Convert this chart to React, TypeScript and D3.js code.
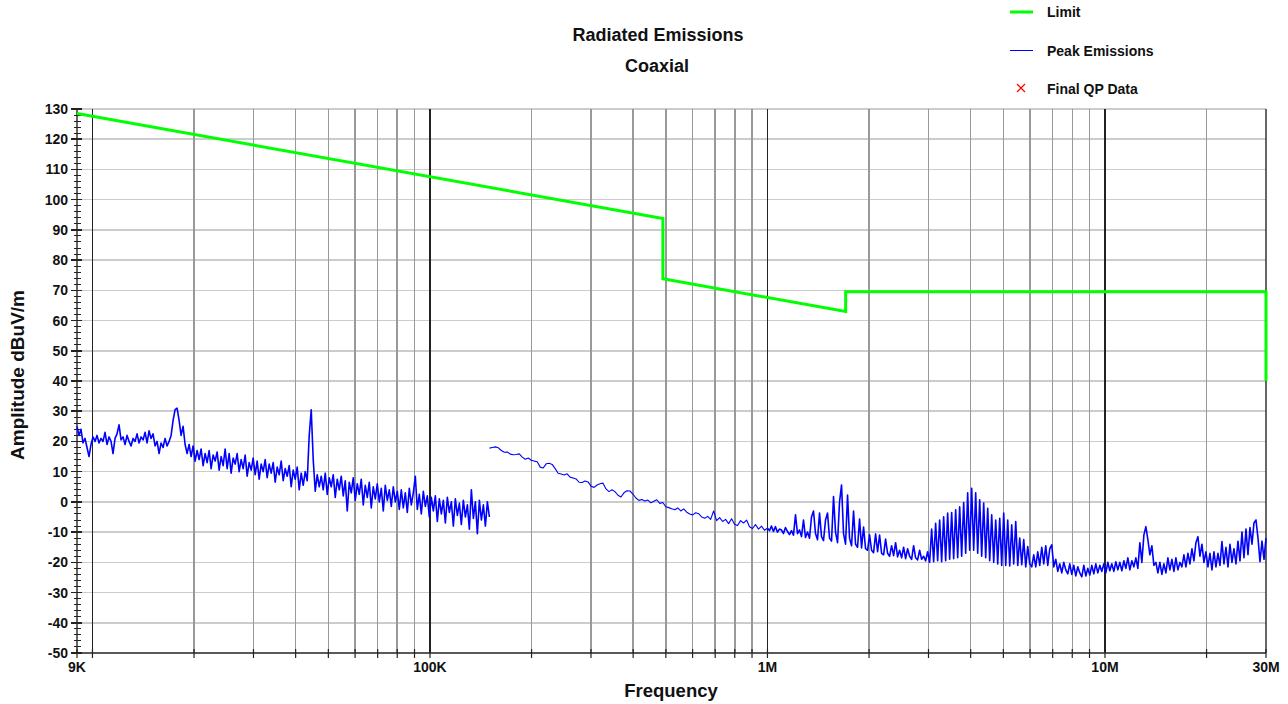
import { useEffect, useRef } from 'react';
import * as d3 from 'd3';

// Limit line (dBuV/m), frequency in Hz
const limitFreqs = [9e3, 490e3, 490e3, 1.705e6, 1.705e6, 30e6, 30e6];
const limitLevels = [128.5, 93.8, 73.8, 63.0, 69.5, 69.5, 40];

// Peak scan 9 kHz - 150 kHz, values at equal log-frequency steps
const peakLowStart = 9e3;
const peakLowStop = 150e3;
const peakLow = [
    25, 22, 24, 19.5, 21, 18, 15, 19, 21.5, 20,
    22, 19.5, 21, 20, 23, 19, 21.5, 20, 16, 21,
    22.5, 25.5, 20.5, 21.5, 19, 22, 20, 18.5, 21, 20,
    22.5, 19.5, 21.5, 20.5, 23, 19.5, 23.5, 21, 22.5, 18.5,
    20, 16, 19.5, 18, 21, 18.5, 20, 22, 27, 30.5,
    31, 27, 22, 25, 19,
    16, 19, 15, 18.5, 13.5, 17, 14, 17.5, 12, 16,
    13, 17, 11, 15.5, 13.5, 16.5, 10.5, 15, 12, 17.5,
    11, 16, 9.5, 14.5, 12.5, 16, 10, 14, 11, 15.5,
    8.5, 13, 10.5, 14.5, 9, 13.5, 7.5, 12.5, 10, 14,
    8, 12.5, 9.5, 13, 6.5, 11.5, 9, 13.5, 7, 11,
    8.5, 12, 5, 10.5, 7.5, 11.5, 4,
    9.5, 5.5, 10, 7, 22, 30.5, 14, 3.5, 9, 5,
    8.5, 4, 9.5, 2.5, 8, 5, 9, 1.5, 7.5, 4,
    8.5, 2, 7, -3, 6.5, 3, 8, 0.5, 6, 2.5,
    7.5, -1, 5.5, 1.5, 6.5, -2, 5, 1, 6, 0,
    4.5, -3, 5.5, 0.5, 4, -1.5, 5, 0, 3.5, -2.5,
    4, -2, 3, -3.5, 4.5, -1, 3, 8.5, -2.5, 2.5,
    -4, 3.5, -1.5, 2, -5, 1.5, -3, 2, -6.5, 1,
    -4, 0.5, -7, 1.5, -3.5, 0, -8, 1, -4.5, -0.5,
    -7.5, 0.5, -5, -1, -9, 4, -5.5, 0, -10.5, 0.5,
    -6, -1, -8, 0, -5,
];

// Peak scan 150 kHz - 1 MHz
const peakMidStart = 150e3;
const peakMidStop = 1e6;
const peakMid = [
    17.8, 18.0, 18.2, 17.9, 17.0, 16.4, 16.5, 15.8, 15.6, 15.7,
    15.9, 14.8, 14.1, 14.5, 13.8, 13.5, 13.3, 11.5, 11.2, 12.6,
    12.8, 12.4, 11.0, 9.5, 9.2, 8.9, 9.3, 8.2, 7.9, 7.6,
    6.5, 6.4, 6.9, 6.6, 5.2, 4.8, 5.6, 6.0, 6.2, 4.3,
    3.4, 4.0, 3.4, 2.2, 1.6, 3.0, 3.7, 3.6, 2.6, 1.3,
    0.5, 0.8, 0.3, 0.6, -0.3, 0.2, 0.7, -0.5, -0.2, -1.6,
    -1.9, -2.3, -2.6, -2.0, -3.0, -2.3, -3.4, -4.0, -4.3, -3.6,
    -3.9, -5.0, -5.4, -4.8, -5.8, -3.0, -6.2, -5.2, -6.5, -5.8,
    -7.2, -5.6, -7.4, -7.8, -6.2, -7.0, -6.0, -8.2, -8.8, -7.5,
    -9.0, -8.0, -9.4, -8.7,
];

// Peak scan 1 MHz - 30 MHz
const peakHighStart = 1e6;
const peakHighStop = 30e6;
const peakHigh = [
    -8.7, -9.5, -8.0, -9.8, -8.2, -10.0, -9.0, -9.3, -10.5, -8.5,
    -9.8, -10.8, -9.5, -11.0, -4.3, -10.5, -9.3, -11.5, -6.0, -11.8,
    -10.0, -12.0, -5.0, -3.0, -10.5, -12.5, -3.7, -11.5, -12.8, -6.0,
    -3.7, -12.0, -13.0, 1.8, -10.0, -13.5, 0.0, 5.6, -10.5, -14.0,
    2.3, -12.0, -14.5, -3.0, -14.0, -15.0, -5.7, -15.2, -8.3, -15.5,
    -16.0, -10.9, -16.0, -16.8, -10.6, -16.5, -11.0, -17.0, -17.5, -12.3,
    -17.0, -18.0, -14.5, -17.8, -13.5, -18.2, -16.0, -18.5, -15.0, -18.8,
    -15.5, -18.0, -19.0, -14.5, -18.5, -19.2, -16.0, -19.0, -18.0, -19.5,
    -16.5, -20.0, -9.0, -19.8, -7.1, -19.5, -6.0, -19.8, -4.9, -19.5,
    -3.7, -19.0, -3.5, -18.8, -2.6, -18.5, -1.6, -18.0, -0.2, -17.0,
    3.0, -16.0, 4.5, -16.0, 3.0, -17.0, 0.7, -18.0, -0.4, -18.5,
    -2.1, -19.5, -4.3, -20.0, -6.0, -20.5, -5.4, -21.0, -3.7, -21.0,
    -6.0, -21.2, -7.6, -20.5, -6.5, -21.0, -12.0, -20.8, -12.5, -21.5,
    -14.8, -20.5, -21.5, -17.5, -21.5, -16.5, -21.0, -15.0, -20.5, -14.5,
    -21.0, -15.5, -14.2, -21.5, -19.0, -23.0, -20.5, -23.5, -20.0, -22.5,
    -23.8, -20.5, -24.0, -21.0, -24.5, -21.5, -23.5, -24.8, -21.0, -24.5,
    -22.0, -24.2, -21.0, -23.8, -20.5, -23.5, -21.0, -23.0, -20.5, -23.5,
    -20.0, -22.8, -20.5, -23.0, -19.8, -22.5, -20.0, -22.8, -19.5, -22.0,
    -18.5, -22.5, -19.5, -21.5, -18.5, -22.0, -13.5, -20.0, -11.0, -8.2,
    -12.5, -17.5, -14.5, -21.0, -20.0, -23.5, -20.0, -24.0, -20.5, -23.5,
    -18.5, -22.5, -19.0, -23.0, -18.5, -22.5, -20.0, -21.5, -17.5, -21.5,
    -17.0, -20.5, -15.5, -19.5, -13.5, -11.5, -18.0, -14.0, -20.0, -16.5,
    -21.5, -17.0, -22.5, -16.5, -21.5, -17.0, -21.0, -13.1, -20.5, -15.0,
    -21.5, -14.0, -20.0, -15.5, -20.5, -13.0, -19.5, -10.0, -18.5, -9.0,
    -17.5, -8.5, -14.0, -7.0, -6.0, -12.0, -19.8, -13.0, -19.0, -12.0,
];

const yTicks = [-50, -40, -30, -20, -10, 0, 10, 20, 30, 40, 50, 60, 70, 80, 90, 100, 110, 120, 130];
const xTickFreqs = [9e3, 100e3, 1e6, 10e6, 30e6];
const xTickLabels = ['9K', '100K', '1M', '10M', '30M'];

const W = 1288;
const H = 704;
const FONT = 'Arial, "Liberation Sans", Helvetica, sans-serif';

const sweep = (start: number, stop: number, values: number[]) =>
    values.map((v, i) => [start * Math.pow(stop / start, i / (values.length - 1)), v] as [number, number]);

export default function App() {
    const svgRef = useRef<SVGSVGElement>(null);

    useEffect(() => {
        const left = 77, right = 1266, top = 109, bottom = 653;

        const svg = d3.select(svgRef.current);
        svg.selectAll('*').remove();

        const x = d3.scaleLog().domain([9e3, 30e6]).range([left, right]);
        const y = d3.scaleLinear().domain([-50, 130]).range([bottom, top]);

        svg.append('rect').attr('width', W).attr('height', H).attr('fill', '#fff');

        // horizontal grid
        svg.append('g').selectAll('line').data(yTicks).join('line')
            .attr('x1', left).attr('x2', right)
            .attr('y1', d => y(d)).attr('y2', d => y(d))
            .attr('stroke', '#cccccc').attr('stroke-width', 1.5)
            .attr('shape-rendering', 'crispEdges');

        // vertical grid, 1..9 per decade
        const gridFreqs: { f: number; major: boolean }[] = [];
        [1e4, 1e5, 1e6, 1e7].forEach(dec => {
            for (let m = 1; m <= 9; m++) {
                const f = m * dec;
                if (f < 30e6) gridFreqs.push({ f, major: m === 1 });
            }
        });
        svg.append('g').selectAll('line').data(gridFreqs).join('line')
            .attr('x1', d => x(d.f)).attr('x2', d => x(d.f))
            .attr('y1', top).attr('y2', bottom)
            .attr('stroke', d => d.major ? '#222' : '#999')
            .attr('stroke-width', d => d.major ? 1.2 : 1.5)
            .attr('shape-rendering', 'crispEdges');

        // right border
        svg.append('line')
            .attr('x1', right).attr('x2', right).attr('y1', top).attr('y2', bottom)
            .attr('stroke', '#333').attr('stroke-width', 1.5);

        // axes
        svg.append('line')
            .attr('x1', left).attr('x2', left).attr('y1', top).attr('y2', bottom)
            .attr('stroke', '#333').attr('stroke-width', 1.5);
        svg.append('line')
            .attr('x1', left).attr('x2', right).attr('y1', bottom).attr('y2', bottom)
            .attr('stroke', '#333').attr('stroke-width', 1.5);

        // y ticks (major every 10, minor every 2)
        const minor = d3.range(-50, 131, 2).filter(v => v % 10 !== 0);
        svg.append('g').selectAll('line').data(minor).join('line')
            .attr('x1', left - 3).attr('x2', left + 4)
            .attr('y1', d => y(d)).attr('y2', d => y(d))
            .attr('stroke', '#222').attr('shape-rendering', 'crispEdges');
        svg.append('g').selectAll('line').data(yTicks).join('line')
            .attr('x1', left - 6).attr('x2', left + 5)
            .attr('y1', d => y(d)).attr('y2', d => y(d))
            .attr('stroke', '#222').attr('stroke-width', 1.5).attr('shape-rendering', 'crispEdges');
        svg.append('g').selectAll('text').data(yTicks).join('text')
            .attr('x', left - 9).attr('y', d => y(d) + 5)
            .attr('text-anchor', 'end')
            .style('font', `bold 14px ${FONT}`).style('fill', '#111')
            .text(d => d);

        // x ticks
        svg.append('g').selectAll('line').data([{ f: 9e3, major: true }, ...gridFreqs, { f: 30e6, major: true }]).join('line')
            .attr('x1', d => x(d.f)).attr('x2', d => x(d.f))
            .attr('y1', bottom - 4).attr('y2', bottom + 5)
            .attr('stroke', '#222').attr('stroke-width', 1.2);
        svg.append('g').selectAll('text').data(xTickFreqs).join('text')
            .attr('x', d => x(d)).attr('y', 672)
            .attr('text-anchor', 'middle')
            .style('font', `bold 14px ${FONT}`).style('fill', '#111')
            .text((d, i) => xTickLabels[i]);

        // peak emissions (dense sweeps drawn a touch heavier)
        const line = d3.line<[number, number]>().x(d => x(d[0])).y(d => y(d[1]));
        const traces = [
            { pts: sweep(peakLowStart, peakLowStop, peakLow), w: 1.6 },
            { pts: sweep(peakMidStart, peakMidStop, peakMid), w: 1.1 },
            { pts: sweep(peakHighStart, peakHighStop, peakHigh), w: 1.6 },
        ];
        traces.forEach(t => {
            svg.append('path')
                .attr('d', line(t.pts))
                .attr('fill', 'none').attr('stroke', '#0000ff').attr('stroke-width', t.w)
                .attr('stroke-linejoin', 'round');
        });

        // limit
        const limitPts = limitFreqs.map((f, i) => [f, limitLevels[i]] as [number, number]);
        svg.append('path')
            .attr('d', line(limitPts))
            .attr('fill', 'none').attr('stroke', '#00ff00').attr('stroke-width', 3);

        // titles
        svg.append('text').attr('x', 658).attr('y', 41).attr('text-anchor', 'middle')
            .style('font', `bold 18px ${FONT}`).style('fill', '#111').text('Radiated Emissions');
        svg.append('text').attr('x', 657).attr('y', 72).attr('text-anchor', 'middle')
            .style('font', `bold 18px ${FONT}`).style('fill', '#111').text('Coaxial');
        svg.append('text').attr('x', 671).attr('y', 697).attr('text-anchor', 'middle')
            .style('font', `bold 18.5px ${FONT}`).style('fill', '#111').text('Frequency');
        svg.append('text').attr('transform', 'translate(24,375) rotate(-90)').attr('text-anchor', 'middle')
            .style('font', `bold 19px ${FONT}`).style('fill', '#111').text('Amplitude dBuV/m');

        // legend
        const lg = svg.append('g');
        lg.append('line').attr('x1', 1010).attr('x2', 1033).attr('y1', 12).attr('y2', 12)
            .attr('stroke', '#00ff00').attr('stroke-width', 3);
        lg.append('line').attr('x1', 1010).attr('x2', 1033).attr('y1', 50.5).attr('y2', 50.5)
            .attr('stroke', '#0000ff').attr('stroke-width', 1);
        lg.append('path').attr('d', 'M1017,84L1025,92M1025,84L1017,92')
            .attr('stroke', '#ff0000').attr('stroke-width', 1.2);
        const legendText = ['Limit', 'Peak Emissions', 'Final QP Data'];
        lg.selectAll('text').data(legendText).join('text')
            .attr('x', 1047).attr('y', (d, i) => 17 + i * 38.5)
            .style('font', `bold 14px ${FONT}`).style('fill', '#111')
            .text(d => d);
    }, []);

    return (
        <svg ref={svgRef} width={W} height={H} style={{ position: 'absolute', left: 0, top: 0 }}></svg>
    );
}
